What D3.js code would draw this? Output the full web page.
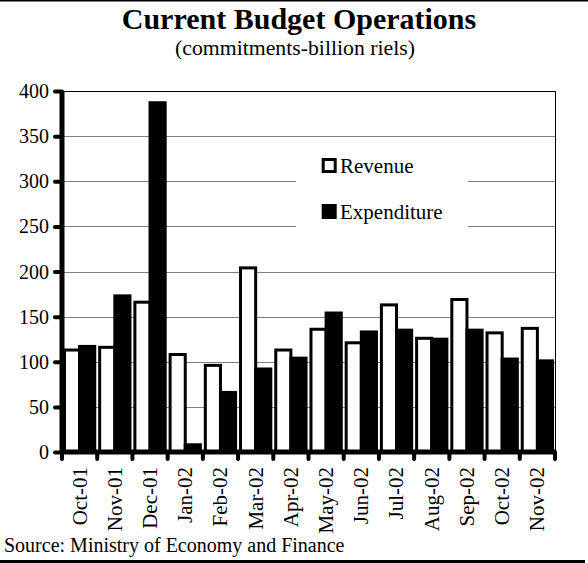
<!DOCTYPE html>
<html>
<head>
<meta charset="utf-8">
<script src="https://cdn.jsdelivr.net/npm/d3@7"></script>
<style>
  html, body { margin: 0; padding: 0; background: #fff; }
  svg { display: block; }
  text { font-family: "Liberation Serif", "Times New Roman", serif; fill: #000; }
</style>
</head>
<body>
<div id="chart"></div>
<script>
const categories = ["Oct-01","Nov-01","Dec-01","Jan-02","Feb-02","Mar-02","Apr-02","May-02","Jun-02","Jul-02","Aug-02","Sep-02","Oct-02","Nov-02"];
const revenue     = [113,116,166,108,96,204,113,136,121,163,126,169,132,137];
const expenditure = [117,173,387,8,66,92,104,154,133,135,125,135,103,101];
const seriesNames = ["Revenue","Expenditure"];
const yTicks = [0,50,100,150,200,250,300,350,400];
const titleText = "Current Budget Operations";
const subtitleText = "(commitments-billion riels)";
const sourceText = "Source: Ministry of Economy and Finance";

(function () {
const W = 588, H = 563;
const mLeft = 62, mRight = 555, mTop = 91, mBottom = 452;

const svg = d3.select("#chart").append("svg").attr("width", W).attr("height", H);

// frame lines
svg.append("line").attr("x1",0).attr("x2",W).attr("y1",0.5).attr("y2",0.5).attr("stroke","#000").attr("stroke-width",2);
svg.append("line").attr("x1",0).attr("x2",W-3).attr("y1",561.5).attr("y2",561.5).attr("stroke","#000").attr("stroke-width",3);

// titles
svg.append("text").attr("x",299).attr("y",29).attr("text-anchor","middle")
  .attr("font-size",30).attr("font-weight","bold").text(titleText);
svg.append("text").attr("x",295).attr("y",55).attr("text-anchor","middle")
  .attr("font-size",21).attr("textLength",240).attr("lengthAdjust","spacingAndGlyphs").text(subtitleText);

const y = d3.scaleLinear().domain([0,400]).range([mBottom, mTop]);
const x = d3.scaleBand().domain(categories).range([mLeft, mRight]).paddingInner(0.14).paddingOuter(0.07);
const xs = d3.scaleBand().domain(seriesNames).range([0, x.bandwidth()]);

// gridlines
svg.append("g").selectAll("line").data(yTicks.filter(t => t > 0 && t < 400)).join("line")
  .attr("x1", mLeft).attr("x2", mRight)
  .attr("y1", d => Math.round(y(d)) + 0.5).attr("y2", d => Math.round(y(d)) + 0.5)
  .attr("stroke", "#808080").attr("stroke-width", 1);

// plot border top & right
svg.append("line").attr("x1",mLeft).attr("x2",mRight).attr("y1",Math.round(y(400))+0.5).attr("y2",Math.round(y(400))+0.5).attr("stroke","#000").attr("stroke-width",1);
svg.append("line").attr("x1",mRight+0.5).attr("x2",mRight+0.5).attr("y1",y(400)).attr("y2",mBottom).attr("stroke","#000").attr("stroke-width",1);

// legend background
svg.append("rect").attr("x",296).attr("y",y(340)).attr("width",172).attr("height",y(210)-y(340)).attr("fill","#fff");

// bars
const sw = 3;
const g = svg.append("g");
g.selectAll("rect.rev").data(revenue).join("rect").attr("class","rev")
  .attr("x", (d,i) => x(categories[i]) + xs("Revenue"))
  .attr("width", xs.bandwidth())
  .attr("y", d => y(d)).attr("height", d => y(0) - y(d))
  .attr("fill","#fff").attr("stroke","#000").attr("stroke-width",sw);
g.selectAll("rect.exp").data(expenditure).join("rect").attr("class","exp")
  .attr("x", (d,i) => x(categories[i]) + xs("Expenditure"))
  .attr("width", xs.bandwidth())
  .attr("y", d => y(d)).attr("height", d => y(0) - y(d))
  .attr("fill","#000").attr("stroke","#000").attr("stroke-width",sw);

// y axis
const yAxis = d3.axisLeft(y).tickValues(yTicks).tickSize(7).tickPadding(6);
const ya = svg.append("g").attr("transform",`translate(${mLeft},0)`).call(yAxis);
ya.select(".domain").attr("stroke","#000").attr("stroke-width",5).attr("d",`M0,${mTop}V${mBottom}`);
ya.selectAll(".tick line").attr("stroke","#000").attr("stroke-width",4).attr("stroke-linecap","round");
ya.selectAll(".tick text").attr("font-size",20).attr("font-family","Liberation Serif, serif").attr("dy","0.33em");

// x axis
const boundaries = categories.map(c => x(c) - x.step()*x.paddingInner()/2).concat([mRight]);
const xa = svg.append("g");
xa.append("line").attr("x1",mLeft).attr("x2",mRight).attr("y1",mBottom).attr("y2",mBottom)
  .attr("stroke","#000").attr("stroke-width",5);
xa.selectAll("line.tk").data(boundaries).join("line").attr("class","tk")
  .attr("x1", d => d).attr("x2", d => d).attr("y1", mBottom).attr("y2", mBottom + 7)
  .attr("stroke","#000").attr("stroke-width",4).attr("stroke-linecap","round");
xa.selectAll("text").data(categories).join("text")
  .attr("transform", d => `translate(${x(d) + x.bandwidth()/2},467) rotate(-90)`)
  .attr("text-anchor","end").attr("dy","0.33em").attr("font-size",21).text(d => d);

// legend
const legendItems = [{name:"Revenue", fill:"#fff", y:158}, {name:"Expenditure", fill:"#000", y:204}];
const lg = svg.append("g").selectAll("g").data(legendItems).join("g");
lg.append("rect").attr("x",323.2).attr("y",d => d.y+1.5).attr("width",12).attr("height",12)
  .attr("fill", d => d.fill).attr("stroke","#000").attr("stroke-width",3);
lg.append("text").attr("x",340).attr("y",d => d.y+15).attr("font-size",21).text(d => d.name);

// source
svg.append("text").attr("x",4).attr("y",552).attr("font-size",20).text(sourceText);
})();
</script>
</body>
</html>
